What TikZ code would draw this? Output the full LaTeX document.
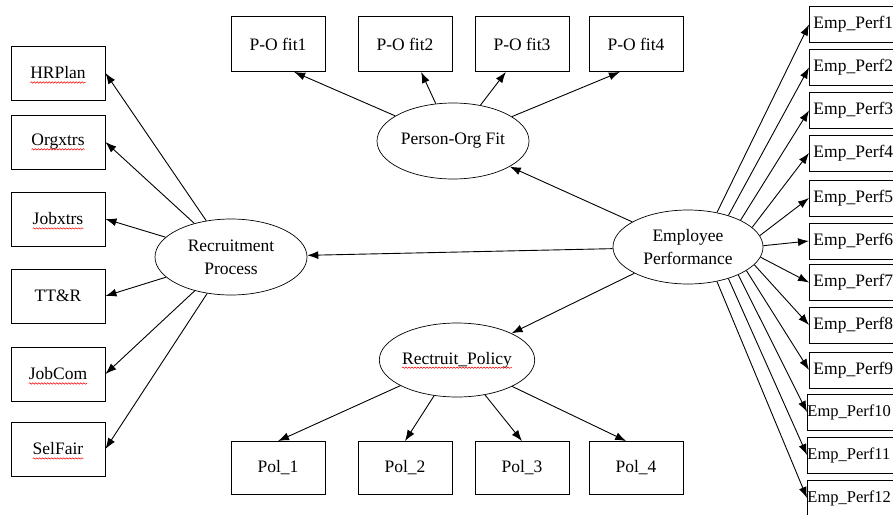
\documentclass[tikz,border=0pt]{standalone}
\usepackage{fontspec}
\setmainfont{Liberation Serif}
\usetikzlibrary{shapes.geometric,arrows.meta,decorations.pathmorphing}
\newcommand\diagfont{\fontsize{17.5}{23}\selectfont}
\newlength\spellw
\newcommand\sw[1]{\setbox0\hbox{#1}\global\spellw=\wd0\box0}
\newcommand\spellmark[1]{\draw [spell] ([yshift=-3.5pt]#1.text) -- ++(\spellw,0);}
\begin{document}
\begin{tikzpicture}[x=1pt, y=-1pt, font=\diagfont,
  box/.style={draw, line width=0.9pt, minimum width=94, minimum height=54, inner sep=2pt},
  perf/.style={draw, line width=0.9pt, anchor=west, minimum width=96, minimum height=36, text width=88pt, inner xsep=4pt, align=left},
  tightperf/.style={perf, inner xsep=0pt, text width=98pt, minimum width=98, font=\fontsize{16.5}{20}\selectfont},
  latent/.style={ellipse, draw, line width=0.7pt, minimum width=152, minimum height=76, inner sep=0pt, align=center},
  arr/.style={-{Latex[length=11pt,width=8pt]}, line width=0.9pt},
  spell/.style={red, line width=0.5pt, decorate, decoration={snake, amplitude=0.7pt, segment length=3pt}}]
\useasboundingbox (0,0) rectangle (893,514);
\clip (0,0) rectangle (893,514);
\node [latent] (rp) at (231,257) {Recruitment\\Process};
\node [latent] (pof) at (453,141) {Person-Org Fit};
\node [latent, minimum height=74] (rpol) at (457,360) {\sw{Rectruit\_Policy}};
\spellmark{rpol}
\node [latent, minimum width=150, minimum height=74] (ep) at (688,247) {Employee\\Performance};
\node [box] (hrplan) at (58,73) {\sw{HRPlan}};
\spellmark{hrplan}
\node [box] (orgxtrs) at (58,142) {\sw{Orgxtrs}};
\spellmark{orgxtrs}
\node [box] (jobxtrs) at (58,219) {\sw{Jobxtrs}};
\spellmark{jobxtrs}
\node [box] (ttr) at (58,296) {TT\&R};
\node [box] (jobcom) at (58,374) {\sw{JobCom}};
\spellmark{jobcom}
\node [box] (selfair) at (58,449) {\sw{SelFair}};
\spellmark{selfair}
\node [box, minimum height=55] (pofit1) at (278,44) {P-O fit1};
\node [box, minimum height=55] (pofit2) at (405,44) {P-O fit2};
\node [box, minimum height=55] (pofit3) at (522,44) {P-O fit3};
\node [box, minimum height=55] (pofit4) at (636,44) {P-O fit4};
\node [box, minimum height=53] (pol1) at (278,468) {Pol\_1};
\node [box, minimum height=53] (pol2) at (405,468) {Pol\_2};
\node [box, minimum height=53] (pol3) at (522,468) {Pol\_3};
\node [box, minimum height=53] (pol4) at (636,468) {Pol\_4};
\node [perf] (perf1) at (809,24.5) {Emp\_Perf1};
\node [perf] (perf2) at (809,67.5) {Emp\_Perf2};
\node [perf] (perf3) at (809,110.5) {Emp\_Perf3};
\node [perf] (perf4) at (809,153) {Emp\_Perf4};
\node [perf] (perf5) at (809,198) {Emp\_Perf5};
\node [perf] (perf6) at (809,241) {Emp\_Perf6};
\node [perf] (perf7) at (809,282.5) {Emp\_Perf7};
\node [perf] (perf8) at (809,325) {Emp\_Perf8};
\node [perf] (perf9) at (809,370) {Emp\_Perf9};
\node [tightperf] (perf10) at (807,412) {Emp\_Perf10};
\node [tightperf] (perf11) at (807,455) {Emp\_Perf11};
\node [tightperf] (perf12) at (807,498) {Emp\_Perf12};
\draw [arr] (rp) -- (hrplan.east);
\draw [arr] (rp) -- (orgxtrs.east);
\draw [arr] (rp) -- (jobxtrs.east);
\draw [arr] (rp) -- (ttr.east);
\draw [arr] (rp) -- (jobcom.east);
\draw [arr] (rp) -- (selfair.east);
\draw [arr] (pof) -- (pofit1.-60);
\draw [arr] (pof) -- (pofit2.-60);
\draw [arr] (pof) -- (pofit3.-120);
\draw [arr] (pof) -- (pofit4.-120);
\draw [arr] (rpol) -- (pol1.north);
\draw [arr] (rpol) -- (pol2.north);
\draw [arr] (rpol) -- (pol3.north);
\draw [arr] (rpol) -- (pol4.110);
\draw [arr] (ep) -- (rp);
\draw [arr] (ep) -- (pof);
\draw [arr] (ep) -- (rpol);
\draw [arr] (ep.50) -- (perf1.west);
\draw [arr] (ep.38) -- (perf2.west);
\draw [arr] (ep.27) -- (perf3.west);
\draw [arr] (ep.17) -- (perf4.west);
\draw [arr] (ep.9) -- (perf5.west);
\draw [arr] (ep.1) -- (perf6.west);
\draw [arr] (ep.-8) -- (perf7.west);
\draw [arr] (ep.-15) -- (perf8.west);
\draw [arr] (ep.-22) -- (perf9.west);
\draw [arr] (ep.-29) -- (perf10.west);
\draw [arr] (ep.-38) -- (perf11.west);
\draw [arr] (ep.-50) -- (perf12.west);
\end{tikzpicture}
\end{document}
